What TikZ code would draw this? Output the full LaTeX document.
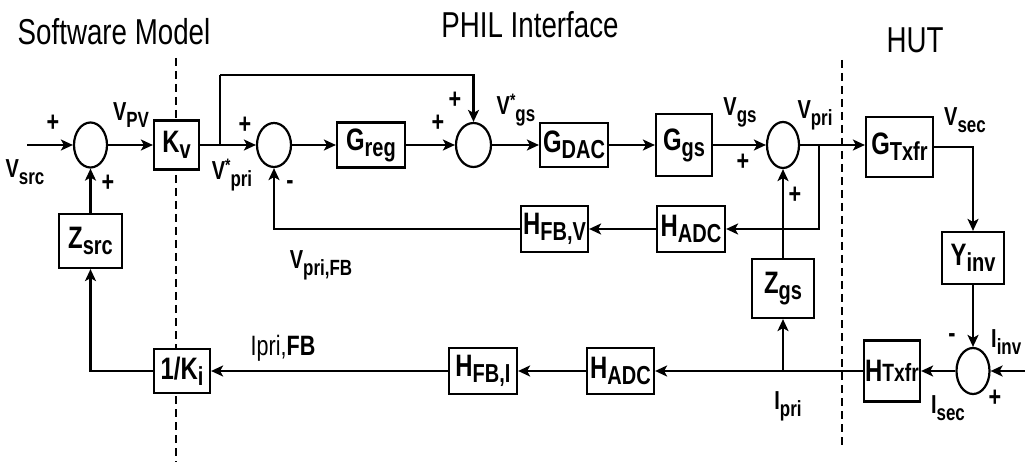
\documentclass[tikz,border=0pt]{standalone}
\usepackage{fontspec}
\setmainfont{Liberation Sans}[FakeStretch=0.77]
\usetikzlibrary{arrows.meta,shapes.geometric}
\newcommand{\Lb}{\fontsize{26}{26}\selectfont\bfseries}
\newcommand{\lsub}[1]{\raisebox{-7pt}{\fontsize{22}{22}\selectfont #1}}
\newcommand{\lsup}{\raisebox{8pt}{\fontsize{18}{18}\selectfont *}}
\newcommand{\Bx}{\fontsize{31}{31}\selectfont\bfseries}
\newcommand{\bsub}[1]{\raisebox{-6pt}{\fontsize{26}{26}\selectfont #1}}
\begin{document}
\begin{tikzpicture}[x=1pt,y=-1pt,
  blk/.style 2 args={draw,fill=white,line width=2.2pt,inner sep=0pt,minimum width=#1,minimum height=#2},
  sum/.style 2 args={ellipse,draw,fill=white,line width=2.2pt,inner sep=0pt,minimum width=#1,minimum height=#2},
  wire/.style={line width=2.2pt},
  arr/.style={line width=2.2pt,-{Stealth[length=12pt,width=11pt,inset=3pt]}},
  divider/.style={line width=1.8pt,dash pattern=on 8pt off 5pt},
  lab/.style={inner sep=0pt,font=\Lb},
  sgn/.style={inner sep=0pt,font=\fontsize{28}{28}\selectfont\bfseries},
  ttl/.style={inner sep=0pt,font=\fontsize{36}{36}\selectfont}]
\useasboundingbox (0,0) rectangle (1025,462);
% titles
\node[ttl] (t1) at (114,32) {Software Model};
\node[ttl] (t2) at (530,25) {PHIL Interface};
\node[ttl] (t3) at (915,40) {HUT};
% dividers
\coordinate (d1t) at (176,58); \coordinate (d1b) at (176,462);
\coordinate (d2t) at (842,60); \coordinate (d2b) at (842,447);
\draw[divider] (d1t) -- (d1b);
\draw[divider] (d2t) -- (d2b);
% blocks
\node[sum={33pt}{45pt}] (s1) at (90.5,145) {};
\node[blk={45pt}{49pt}] (kv) at (176.5,145) {\Bx K\bsub{v}};
\node[sum={34pt}{44pt}] (s2) at (274,145) {};
\node[blk={68pt}{45pt}] (greg) at (371,145) {\Bx G\bsub{reg}};
\node[sum={35pt}{44pt}] (s3) at (473.5,145) {};
\node[blk={68pt}{44pt}] (gdac) at (574,145) {\Bx G\bsub{DAC}};
\node[blk={56pt}{62pt}] (ggs) at (684,145) {\Bx G\bsub{gs}};
\node[sum={32pt}{46pt}] (s4) at (783,145) {};
\node[blk={67pt}{60pt}] (gtx) at (899.5,147) {\Bx G\bsub{Txfr}};
\node[blk={67pt}{46pt}] (hfbv) at (554.5,229) {\Bx H\bsub{FB,V}};
\node[blk={68pt}{46pt}] (hadc1) at (691,229) {\Bx H\bsub{ADC}};
\node[blk={63pt}{54pt}] (zsrc) at (90.5,241) {\Bx Z\bsub{src}};
\node[blk={62pt}{52pt}] (yinv) at (973,258) {\Bx Y\bsub{inv}};
\node[blk={62pt}{59pt}] (zgs) at (783,288.5) {\Bx Z\bsub{gs}};
\node[blk={56pt}{44pt}] (ki) at (182,371) {\Bx 1/K\bsub{i}};
\node[blk={68pt}{46pt}] (hfbi) at (483,371) {\Bx H\bsub{FB,I}};
\node[blk={67pt}{46pt}] (hadc2) at (620.5,371) {\Bx H\bsub{ADC}};
\node[blk={56pt}{61pt}] (htx) at (892,371) {\Bx H{\fontsize{25}{25}\selectfont Txfr}};
\node[sum={33pt}{46pt}] (s5) at (973,371) {};
% connectors
\coordinate (in1) at (27,145);
\coordinate (in5) at (1030,371);
\coordinate (b1) at (220,145);
\coordinate (top1) at (220,75);
\coordinate (b2) at (819,145);
\coordinate (b3) at (783,371);
\draw[arr] (in1) -- (s1.west);
\draw[arr] (s1.east) -- (kv.west);
\draw[arr] (kv.east) -- (s2.west);
\draw[wire] (b1) -- (top1);
\draw[arr] (top1) -| (s3.north);
\draw[arr] (s2.east) -- (greg.west);
\draw[arr] (greg.east) -- (s3.west);
\draw[arr] (s3.east) -- (gdac.west);
\draw[arr] (gdac.east) -- (ggs.west);
\draw[arr] (ggs.east) -- (s4.west);
\draw[arr] (s4.east) -- (gtx.west |- s4.east);
\draw[arr] (b2) |- (hadc1.east);
\draw[arr] (hadc1.west) -- (hfbv.east);
\draw[arr] (hfbv.west) -| (s2.south);
\draw[arr] (zgs.north) -- (s4.south);
\draw[arr] (gtx.east) -| (yinv.north);
\draw[arr] (yinv.south) -- (s5.north);
\draw[arr] (in5) -- (s5.east);
\draw[arr] (s5.west) -- (htx.east);
\draw[arr] (htx.west) -- (hadc2.east);
\draw[arr] (b3) -- (zgs.south);
\draw[arr] (hadc2.west) -- (hfbi.east);
\draw[arr] (hfbi.west) -- (ki.east);
\draw[arr] (ki.west) -| (zsrc.south);
\draw[arr] (zsrc.north) -- (s1.south);
% labels
\node[sgn] (p1) at (53,123) {+};
\node[lab] (lvsrc) at (25,172) {V\lsub{src}};
\node[sgn] (p2) at (108,183) {+};
\node[lab] (lvpv) at (131,115) {V\lsub{PV}};
\node[lab] (lvpri1) at (232,175) {V\lsup\lsub{pri}};
\node[sgn] (p3) at (245,125) {+};
\node[sgn] (m1) at (290,185) {-};
\node[lab] (lvfb) at (321,265) {V\lsub{pri,FB}};
\node[sgn] (p4) at (455,100) {+};
\node[sgn] (p5) at (438,123) {+};
\node[lab] (lvgs1) at (516,110) {V\lsup\lsub{gs}};
\node[lab] (lvgs) at (740,112) {V\lsub{gs}};
\node[sgn] (p6) at (743,162) {+};
\node[lab] (lvpri) at (815,115) {V\lsub{pri}};
\node[sgn] (p7) at (795,195) {+};
\node[lab] (lvsec) at (965,120) {V\lsub{sec}};
\node[inner sep=0pt,font=\fontsize{28}{28}\selectfont] (lipfb) at (283,348) {Ipri,\textbf{FB}};
\node[lab] (lipri) at (788,406) {I\lsub{pri}};
\node[sgn] (m2) at (952,338) {-};
\node[sgn] (p8) at (995,398) {+};
\node[lab] (lisec) at (948,408) {I\lsub{sec}};
\node[lab,anchor=west] (liinv) at (991,342) {I\lsub{inv}};
\end{tikzpicture}
\end{document}
